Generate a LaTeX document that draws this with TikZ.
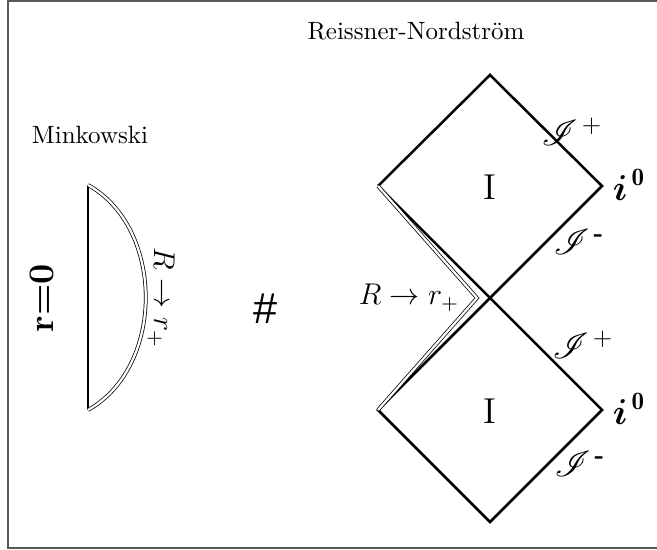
\documentclass[tikz,border=0pt]{standalone}
\usepackage{amsmath}
\usepackage{mathrsfs}
\usepackage{fontspec}
\newfontfamily\hashfont{Liberation Sans}
\begin{document}
\begin{tikzpicture}[
    x=0.4pt, y=-0.4pt,
    edge/.style={line width=1pt, line join=miter},
    glue/.style={double, line width=0.3pt, double distance=0.9pt},
    title/.style={font=\normalsize},
    region/.style={font=\Large},
    scri/.style={font=\Large},
    infinity/.style={font=\Large}
]
\useasboundingbox (0,0) rectangle (657,550);
\draw[gray!70!black, line width=0.5pt] (8,1) rectangle (700,548);

% Titles
\node[title] (mink) at (90,135) {Minkowski};
\node[title] (rn) at (416,31) {Reissner-Nordstr\"om};

% Minkowski piece
\coordinate (mtop) at (88,185);
\coordinate (mbot) at (88,410);
\draw[edge] (mtop) -- (mbot);
\draw[glue] (mtop) .. controls (165,228) and (165,367) .. (mbot);
\node[rotate=90, font=\Large\bfseries] (rzero) at (42,298) {r=0};
\node[rotate=-90, font=\large] (mlim) at (161,298) {$R\to r_+$};

% Connected sum
\node[font=\LARGE\hashfont] (sum) at (266,309) {\#};

% Reissner-Nordstrom diagram
\coordinate (top) at (490,75);
\coordinate (left1) at (378,186);
\coordinate (right1) at (602,186);
\coordinate (mid) at (490,298);
\coordinate (left2) at (378,410);
\coordinate (right2) at (602,410);
\coordinate (bot) at (490,522);
\coordinate (tip) at (477,298);

\draw[edge] (left1) -- (top) -- (right1) -- (left2) -- (bot) -- (right2) -- (left1);
\draw[glue] (left1) -- (tip) -- (left2);

\node[region] (reg1) at (490,187) {I};
\node[region] (reg2) at (490,411) {I};
\node[font=\large, anchor=east] (rlim) at (468,298) {$R\to r_+$};

% Infinities
\node[scri] (scrip1) at (572,132) {$\mathscr{I}^{\,+}$};
\node[scri] (scrim1) at (579,242) {$\mathscr{I}^{\,\textbf{-}}$};
\node[infinity] (izero1) at (629,185) {$\boldsymbol{i}^{\,\mathbf{0}}$};
\node[scri] (scrip2) at (583,345) {$\mathscr{I}^{\,+}$};
\node[infinity] (izero2) at (629,409) {$\boldsymbol{i}^{\,\mathbf{0}}$};
\node[scri] (scrim2) at (580,464) {$\mathscr{I}^{\,\textbf{-}}$};
\end{tikzpicture}
\end{document}
